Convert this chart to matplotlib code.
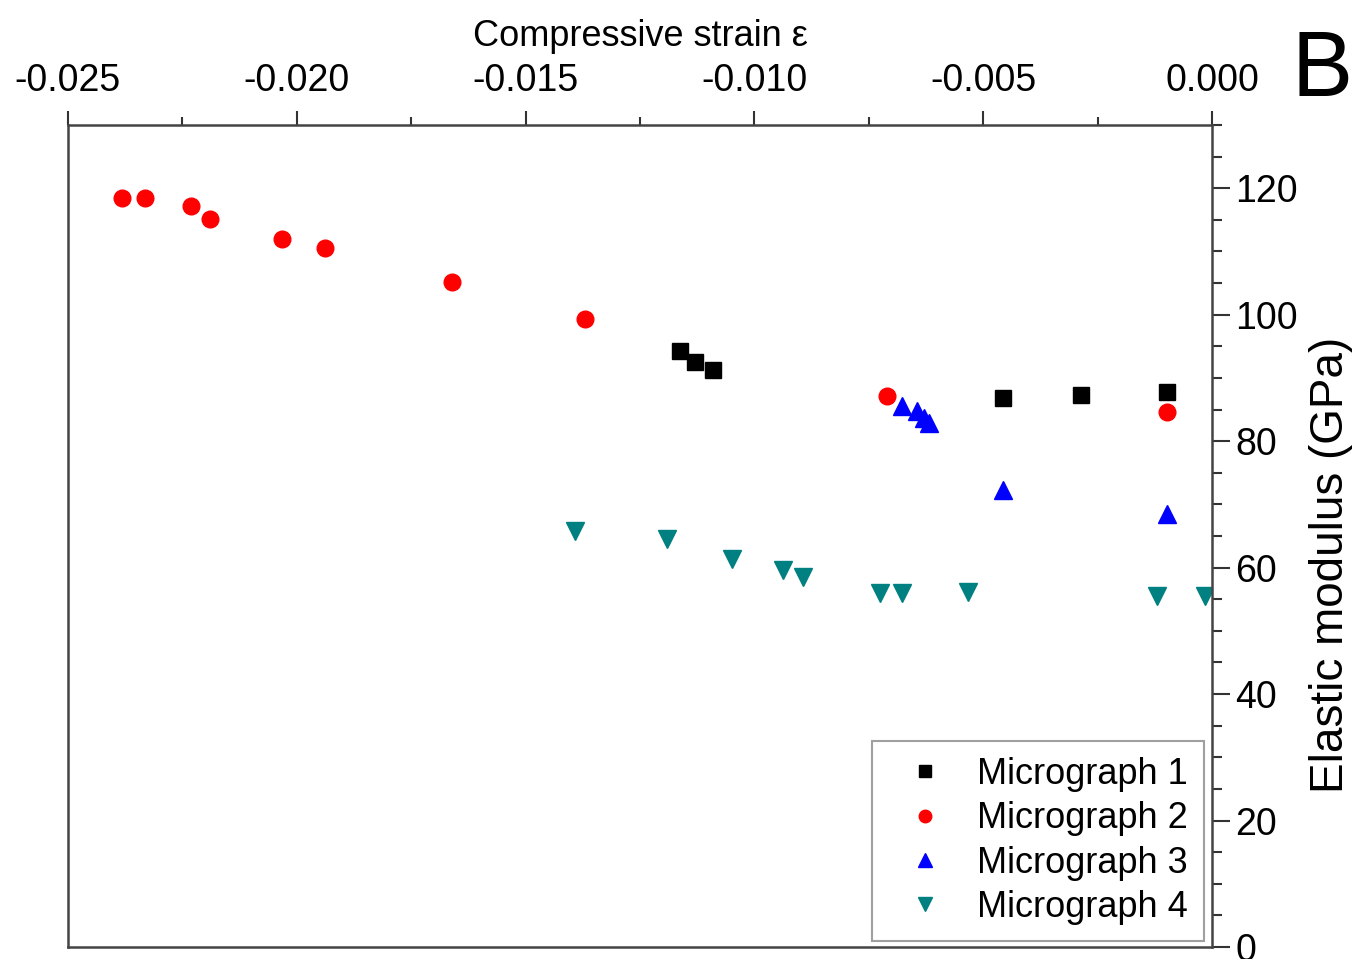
import numpy as np
import matplotlib
matplotlib.use('Agg')
import matplotlib.pyplot as plt
from matplotlib.ticker import MultipleLocator

plt.rcParams['font.family'] = ['Liberation Sans', 'DejaVu Sans']

# --- data ---
m1_strain = [-0.01163, -0.01130, -0.01090, -0.00457, -0.00287, -0.00099]
m1_mod = [94.3, 92.5, 91.2, 86.8, 87.3, 87.7]

m2_strain = [-0.02383, -0.02332, -0.02231, -0.02190, -0.02032, -0.01939,
             -0.01661, -0.01370, -0.00711, -0.00099]
m2_mod = [118.4, 118.4, 117.2, 115.1, 112.0, 110.6, 105.1, 99.3, 87.2, 84.6]

m3_strain = [-0.00677, -0.00645, -0.00629, -0.00618, -0.00457, -0.00099]
m3_mod = [85.6, 84.7, 83.7, 82.9, 72.2, 68.5]

m4_strain = [-0.01391, -0.01192, -0.01050, -0.00937, -0.00893, -0.00726,
             -0.00678, -0.00533, -0.00120, -0.00015]
m4_mod = [65.8, 64.5, 61.3, 59.6, 58.5, 56.0, 56.0, 56.1, 55.5, 55.5]

labels = ['Micrograph 1', 'Micrograph 2', 'Micrograph 3', 'Micrograph 4']

fig = plt.figure(figsize=(13.54, 9.59), dpi=100)
ax = fig.add_axes([68 / 1354, 12 / 959, 1144 / 1354, 822 / 959])

ax.plot(m1_strain, m1_mod, 's', color='black', ms=11, ls='none', label=labels[0])
ax.plot(m2_strain, m2_mod, 'o', color='#ff0000', ms=12, ls='none', label=labels[1])
ax.plot(m3_strain, m3_mod, '^', color='#0000ff', ms=13, ls='none', label=labels[2])
ax.plot(m4_strain, m4_mod, 'v', color='#008080', ms=13, ls='none', label=labels[3])

ax.set_xlim(-0.025, 0.0)
ax.set_ylim(0, 130)

# x axis on top, y axis on right
ax.xaxis.set_ticks_position('top')
ax.xaxis.set_label_position('top')
ax.yaxis.set_ticks_position('right')
ax.yaxis.set_label_position('right')

ax.xaxis.set_major_locator(MultipleLocator(0.005))
ax.xaxis.set_minor_locator(MultipleLocator(0.0025))
ax.yaxis.set_major_locator(MultipleLocator(20))
ax.yaxis.set_minor_locator(MultipleLocator(5))
ax.xaxis.set_major_formatter(plt.FuncFormatter(lambda v, p: f'{v + 0.0:.3f}'.replace('-0.000', '0.000')))

ax.tick_params(axis='x', which='major', direction='out', length=10, width=1.5,
               labelsize=27, pad=9, colors='#333333', labelcolor='black')
ax.tick_params(axis='x', which='minor', direction='out', length=6, width=1.5,
               colors='#333333')
ax.tick_params(axis='y', which='major', direction='out', length=13, width=1.5,
               labelsize=27, pad=4, colors='#333333', labelcolor='black')
ax.tick_params(axis='y', which='minor', direction='out', length=7, width=1.5,
               colors='#333333')

for sp in ax.spines.values():
    sp.set_linewidth(1.8)
    sp.set_color('#444444')

ax.set_xlabel('Compressive strain ε', fontsize=26, labelpad=12)
ax.set_ylabel('Elastic modulus (GPa)', fontsize=33)
ax.yaxis.set_label_coords(1.104, 0.465)
ax.yaxis.label.set_va('center')

leg = ax.legend(loc='lower right', bbox_to_anchor=(0.993, 0.007), borderaxespad=0,
                fontsize=26, frameon=True, fancybox=False, markerscale=0.75,
                handlelength=2.0, handletextpad=0.45, labelspacing=0.26,
                borderpad=0.45)
leg.get_frame().set_edgecolor('#888888')
leg.get_frame().set_linewidth(1.5)

fig.text(1322 / 1354, 1 - 72 / 959, 'B', fontsize=66, ha='center', va='center')

fig.savefig('out.png', dpi=100)
